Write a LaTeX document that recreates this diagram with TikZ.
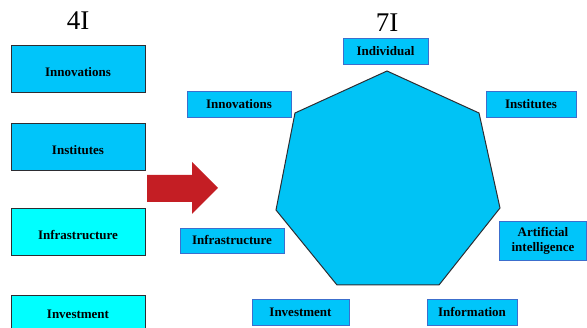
\documentclass[tikz,border=0pt]{standalone}
\usepackage{fontspec}
\setmainfont{Liberation Serif}
\definecolor{skyfill}{RGB}{0,197,250}
\definecolor{cyanfill}{RGB}{0,255,255}
\definecolor{rborder}{RGB}{60,110,205}
\definecolor{lborder}{RGB}{45,45,50}
\definecolor{arrowred}{RGB}{196,30,36}
\definecolor{heptfill}{RGB}{0,195,245}
\tikzset{
  lbox/.style={draw=lborder, line width=0.9pt, minimum width=134pt, minimum height=47pt,
    inner sep=0pt, font=\fontsize{13}{15}\selectfont\bfseries, text height=16.6pt, text depth=0pt},
  rbox/.style={draw=rborder, line width=0.8pt, fill=skyfill, inner sep=0pt,
    font=\fontsize{13}{15}\selectfont\bfseries, align=center},
  title/.style={font=\fontsize{27}{30}\selectfont, inner sep=0pt}
}
\begin{document}
\begin{tikzpicture}[x=1pt,y=-1pt]
\useasboundingbox (0,0) rectangle (587,328);
\clip (0,0) rectangle (587,328);
% titles
\node[title] (t4) at (78,21) {4I};
\node[title] (t7) at (387,23) {7I};
% left column
\node[lbox, fill=skyfill] (l1) at (78,68.5) {Innovations};
\node[lbox, fill=skyfill] (l2) at (78,146.5) {Institutes};
\node[lbox, fill=cyanfill] (l3) at (78,231.5) {Infrastructure};
\node[lbox, fill=cyanfill, text height=9pt, text depth=9pt] (l4) at (78,318.5) {Investment};
% arrow
\fill[arrowred] (147,175) -- (192,175) -- (192,162) -- (218,188) -- (192,214) -- (192,202) -- (147,202) -- cycle;
% heptagon
\filldraw[fill=heptfill, draw=lborder, line width=1pt, line join=miter]
  (387,71) -- (479,113) -- (500,208) -- (439,285) -- (337,285) -- (276,210) -- (295,113) -- cycle;
% right boxes
\node[rbox, minimum width=85pt, minimum height=26pt] (r1) at (385.5,51) {Individual};
\node[rbox, minimum width=104pt, minimum height=26pt] (r2) at (239,104) {Innovations};
\node[rbox, minimum width=90pt, minimum height=26pt] (r3) at (531,104) {Institutes};
\node[rbox, minimum width=87pt, minimum height=39pt] (r4) at (543,240.5) {Artificial\\intelligence};
\node[rbox, minimum width=104pt, minimum height=25pt] (r5) at (232,240.5) {Infrastructure};
\node[rbox, minimum width=97pt, minimum height=26pt] (r6) at (300.5,312) {Investment};
\node[rbox, minimum width=90pt, minimum height=26pt] (r7) at (472,312) {Information};
\end{tikzpicture}
\end{document}
